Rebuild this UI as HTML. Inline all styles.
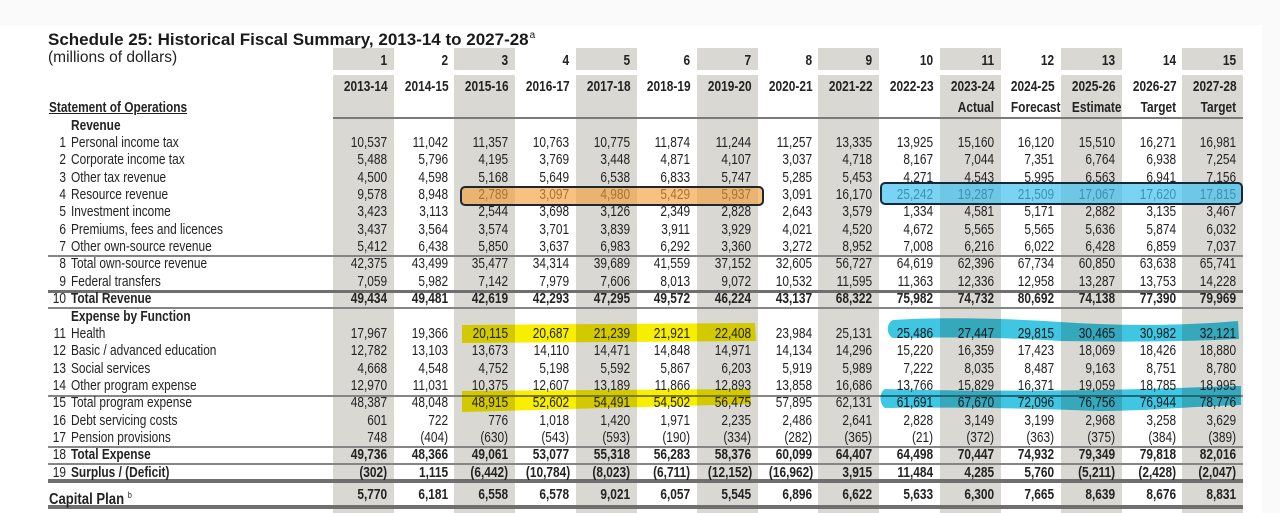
<!DOCTYPE html>
<html><head><meta charset="utf-8">
<style>
*{box-sizing:border-box}
body{margin:0;width:1280px;height:513px;overflow:hidden;background:#fff;position:relative;font-family:"Liberation Sans",Arial,sans-serif;color:#232323}
.band{position:absolute;background:#fafafa}
.sh{position:absolute;background:#d9d8d3;width:61px}
.hl{position:absolute;background:#858585}
.title{position:absolute;left:48px;top:26px;line-height:20px;font-size:17px;font-weight:bold;color:#1a1a1a;white-space:nowrap}
.title sup{font-size:10px;font-weight:normal;vertical-align:7px;margin-left:1px}
.sub{position:absolute;left:48px;top:49px;line-height:18px;font-size:15.5px;color:#222;white-space:nowrap}
.row{position:absolute;left:0;width:1280px;height:17px;line-height:17px;font-size:14.5px;white-space:nowrap}
.row .n{position:absolute;left:0;width:66px;text-align:right;transform:scaleX(.82);transform-origin:100% 50%}
.row .l{position:absolute;left:71px;transform:scaleX(.82);transform-origin:0 50%}
.row .L{position:absolute;left:49px;transform:scaleX(.82);transform-origin:0 50%}
.d{position:absolute;left:333px;top:0;display:flex}
.d i{font-style:normal;display:block;width:60.67px;text-align:right;padding-right:8px;transform:scaleX(.82);transform-origin:100% 50%}
.b{font-weight:bold}
.u{text-decoration:underline}
.box{position:absolute;border-radius:5px}
svg{position:absolute;left:0;top:0}
</style></head><body>
<div class="band" style="left:0;top:0;width:1280px;height:25px"></div>
<div class="band" style="left:1262px;top:0;width:18px;height:513px"></div>

<div class="sh" style="left:333px;top:48px;height:22px"></div>
<div class="sh" style="left:454.3px;top:48px;height:22px"></div>
<div class="sh" style="left:575.7px;top:48px;height:22px"></div>
<div class="sh" style="left:697px;top:48px;height:22px"></div>
<div class="sh" style="left:818.3px;top:48px;height:22px"></div>
<div class="sh" style="left:939.7px;top:48px;height:22px"></div>
<div class="sh" style="left:1061px;top:48px;height:22px"></div>
<div class="sh" style="left:1182.3px;top:48px;height:22px"></div>
<div class="sh" style="left:333px;top:75px;height:438px"></div>
<div class="sh" style="left:454.3px;top:75px;height:438px"></div>
<div class="sh" style="left:575.7px;top:75px;height:438px"></div>
<div class="sh" style="left:697px;top:75px;height:438px"></div>
<div class="sh" style="left:818.3px;top:75px;height:438px"></div>
<div class="sh" style="left:939.7px;top:75px;height:438px"></div>
<div class="sh" style="left:1061px;top:75px;height:438px"></div>
<div class="sh" style="left:1182.3px;top:75px;height:438px"></div>

<div class="hl" style="left:333px;top:117px;width:910px;height:2px;background:#7a7a7a"></div>
<div class="hl" style="left:48px;top:255px;width:1195px;height:2px"></div>
<div class="hl" style="left:48px;top:290px;width:1195px;height:3px;background:#6f6f6f"></div>
<div class="hl" style="left:48px;top:307px;width:1195px;height:2px"></div>
<div class="hl" style="left:48px;top:395px;width:1195px;height:2px"></div>
<div class="hl" style="left:48px;top:446px;width:1195px;height:2px"></div>
<div class="hl" style="left:48px;top:463px;width:1195px;height:2px"></div>
<div class="hl" style="left:48px;top:479px;width:1195px;height:4px;background:#6f6f6f"></div>
<div class="hl" style="left:48px;top:505px;width:1195px;height:4px;background:#6f6f6f"></div>

<div class="title">Schedule 25: Historical Fiscal Summary, 2013-14 to 2027-28<sup>a</sup></div>
<div class="sub">(millions of dollars)</div>

<div class="row b" style="top:52.5px"><div class="d"><i>1</i><i>2</i><i>3</i><i>4</i><i>5</i><i>6</i><i>7</i><i>8</i><i>9</i><i>10</i><i>11</i><i>12</i><i>13</i><i>14</i><i>15</i></div></div>
<div class="row b" style="top:78.5px"><div class="d"><i>2013-14</i><i>2014-15</i><i>2015-16</i><i>2016-17</i><i>2017-18</i><i>2018-19</i><i>2019-20</i><i>2020-21</i><i>2021-22</i><i>2022-23</i><i>2023-24</i><i>2024-25</i><i>2025-26</i><i>2026-27</i><i>2027-28</i></div></div>
<div class="row b" style="top:99.5px"><span class="L u">Statement of Operations</span><div class="d"><i></i><i></i><i></i><i></i><i></i><i></i><i></i><i></i><i></i><i></i><i>Actual</i><i>Forecast</i><i>Estimate</i><i>Target</i><i>Target</i></div></div>

<div class="row b" style="top:117.7px"><span class="l">Revenue</span></div>
<div class="row" style="top:135px"><span class="n">1</span><span class="l">Personal income tax</span><div class="d"><i>10,537</i><i>11,042</i><i>11,357</i><i>10,763</i><i>10,775</i><i>11,874</i><i>11,244</i><i>11,257</i><i>13,335</i><i>13,925</i><i>15,160</i><i>16,120</i><i>15,510</i><i>16,271</i><i>16,981</i></div></div>
<div class="row" style="top:152.4px"><span class="n">2</span><span class="l">Corporate income tax</span><div class="d"><i>5,488</i><i>5,796</i><i>4,195</i><i>3,769</i><i>3,448</i><i>4,871</i><i>4,107</i><i>3,037</i><i>4,718</i><i>8,167</i><i>7,044</i><i>7,351</i><i>6,764</i><i>6,938</i><i>7,254</i></div></div>
<div class="row" style="top:169.7px"><span class="n">3</span><span class="l">Other tax revenue</span><div class="d"><i>4,500</i><i>4,598</i><i>5,168</i><i>5,649</i><i>6,538</i><i>6,833</i><i>5,747</i><i>5,285</i><i>5,453</i><i>4,271</i><i>4,543</i><i>5,995</i><i>6,563</i><i>6,941</i><i>7,156</i></div></div>
<div class="row" style="top:187.1px"><span class="n">4</span><span class="l">Resource revenue</span><div class="d"><i>9,578</i><i>8,948</i><i>2,789</i><i>3,097</i><i>4,980</i><i>5,429</i><i>5,937</i><i>3,091</i><i>16,170</i><i>25,242</i><i>19,287</i><i>21,509</i><i>17,067</i><i>17,620</i><i>17,815</i></div></div>
<div class="row" style="top:204.4px"><span class="n">5</span><span class="l">Investment income</span><div class="d"><i>3,423</i><i>3,113</i><i>2,544</i><i>3,698</i><i>3,126</i><i>2,349</i><i>2,828</i><i>2,643</i><i>3,579</i><i>1,334</i><i>4,581</i><i>5,171</i><i>2,882</i><i>3,135</i><i>3,467</i></div></div>
<div class="row" style="top:221.8px"><span class="n">6</span><span class="l">Premiums, fees and licences</span><div class="d"><i>3,437</i><i>3,564</i><i>3,574</i><i>3,701</i><i>3,839</i><i>3,911</i><i>3,929</i><i>4,021</i><i>4,520</i><i>4,672</i><i>5,565</i><i>5,565</i><i>5,636</i><i>5,874</i><i>6,032</i></div></div>
<div class="row" style="top:239.1px"><span class="n">7</span><span class="l">Other own-source revenue</span><div class="d"><i>5,412</i><i>6,438</i><i>5,850</i><i>3,637</i><i>6,983</i><i>6,292</i><i>3,360</i><i>3,272</i><i>8,952</i><i>7,008</i><i>6,216</i><i>6,022</i><i>6,428</i><i>6,859</i><i>7,037</i></div></div>
<div class="row" style="top:256.4px"><span class="n">8</span><span class="l">Total own-source revenue</span><div class="d"><i>42,375</i><i>43,499</i><i>35,477</i><i>34,314</i><i>39,689</i><i>41,559</i><i>37,152</i><i>32,605</i><i>56,727</i><i>64,619</i><i>62,396</i><i>67,734</i><i>60,850</i><i>63,638</i><i>65,741</i></div></div>
<div class="row" style="top:273.8px"><span class="n">9</span><span class="l">Federal transfers</span><div class="d"><i>7,059</i><i>5,982</i><i>7,142</i><i>7,979</i><i>7,606</i><i>8,013</i><i>9,072</i><i>10,532</i><i>11,595</i><i>11,363</i><i>12,336</i><i>12,958</i><i>13,287</i><i>13,753</i><i>14,228</i></div></div>
<div class="row b" style="top:291.3px"><span class="n" style="font-weight:normal">10</span><span class="l">Total Revenue</span><div class="d"><i>49,434</i><i>49,481</i><i>42,619</i><i>42,293</i><i>47,295</i><i>49,572</i><i>46,224</i><i>43,137</i><i>68,322</i><i>75,982</i><i>74,732</i><i>80,692</i><i>74,138</i><i>77,390</i><i>79,969</i></div></div>
<div class="row b" style="top:308.5px"><span class="l">Expense by Function</span></div>
<div class="row" style="top:325.9px"><span class="n">11</span><span class="l">Health</span><div class="d"><i>17,967</i><i>19,366</i><i>20,115</i><i>20,687</i><i>21,239</i><i>21,921</i><i>22,408</i><i>23,984</i><i>25,131</i><i>25,486</i><i>27,447</i><i>29,815</i><i>30,465</i><i>30,982</i><i>32,121</i></div></div>
<div class="row" style="top:343.2px"><span class="n">12</span><span class="l">Basic / advanced education</span><div class="d"><i>12,782</i><i>13,103</i><i>13,673</i><i>14,110</i><i>14,471</i><i>14,848</i><i>14,971</i><i>14,134</i><i>14,296</i><i>15,220</i><i>16,359</i><i>17,423</i><i>18,069</i><i>18,426</i><i>18,880</i></div></div>
<div class="row" style="top:360.6px"><span class="n">13</span><span class="l">Social services</span><div class="d"><i>4,668</i><i>4,548</i><i>4,752</i><i>5,198</i><i>5,592</i><i>5,867</i><i>6,203</i><i>5,919</i><i>5,989</i><i>7,222</i><i>8,035</i><i>8,487</i><i>9,163</i><i>8,751</i><i>8,780</i></div></div>
<div class="row" style="top:377.9px"><span class="n">14</span><span class="l">Other program expense</span><div class="d"><i>12,970</i><i>11,031</i><i>10,375</i><i>12,607</i><i>13,189</i><i>11,866</i><i>12,893</i><i>13,858</i><i>16,686</i><i>13,766</i><i>15,829</i><i>16,371</i><i>19,059</i><i>18,785</i><i>18,995</i></div></div>
<div class="row" style="top:395.3px"><span class="n">15</span><span class="l">Total program expense</span><div class="d"><i>48,387</i><i>48,048</i><i>48,915</i><i>52,602</i><i>54,491</i><i>54,502</i><i>56,475</i><i>57,895</i><i>62,131</i><i>61,691</i><i>67,670</i><i>72,096</i><i>76,756</i><i>76,944</i><i>78,776</i></div></div>
<div class="row" style="top:412.6px"><span class="n">16</span><span class="l">Debt servicing costs</span><div class="d"><i>601</i><i>722</i><i>776</i><i>1,018</i><i>1,420</i><i>1,971</i><i>2,235</i><i>2,486</i><i>2,641</i><i>2,828</i><i>3,149</i><i>3,199</i><i>2,968</i><i>3,258</i><i>3,629</i></div></div>
<div class="row" style="top:430px"><span class="n">17</span><span class="l">Pension provisions</span><div class="d"><i>748</i><i>(404)</i><i>(630)</i><i>(543)</i><i>(593)</i><i>(190)</i><i>(334)</i><i>(282)</i><i>(365)</i><i>(21)</i><i>(372)</i><i>(363)</i><i>(375)</i><i>(384)</i><i>(389)</i></div></div>
<div class="row b" style="top:447.3px"><span class="n" style="font-weight:normal">18</span><span class="l">Total Expense</span><div class="d"><i>49,736</i><i>48,366</i><i>49,061</i><i>53,077</i><i>55,318</i><i>56,283</i><i>58,376</i><i>60,099</i><i>64,407</i><i>64,498</i><i>70,447</i><i>74,932</i><i>79,349</i><i>79,818</i><i>82,016</i></div></div>
<div class="row b" style="top:464.7px"><span class="n" style="font-weight:normal">19</span><span class="l">Surplus / (Deficit)</span><div class="d"><i>(302)</i><i>1,115</i><i>(6,442)</i><i>(10,784)</i><i>(8,023)</i><i>(6,711)</i><i>(12,152)</i><i>(16,962)</i><i>3,915</i><i>11,484</i><i>4,285</i><i>5,760</i><i>(5,211)</i><i>(2,428)</i><i>(2,047)</i></div></div>
<div class="row b" style="top:486.5px"><span class="L" style="font-size:16px">Capital Plan <sup style="font-size:9px;font-weight:normal;vertical-align:6px">b</sup></span><div class="d"><i>5,770</i><i>6,181</i><i>6,558</i><i>6,578</i><i>9,021</i><i>6,057</i><i>5,545</i><i>6,896</i><i>6,622</i><i>5,633</i><i>6,300</i><i>7,665</i><i>8,639</i><i>8,676</i><i>8,831</i></div></div>

<svg width="1280" height="513" style="mix-blend-mode:multiply">
  <polygon points="462,325 755,323 756,341 462,343" fill="#f7ee00"/>
  <polygon points="462,391 750,389 751,404 462,412" fill="#f7ee00"/>
  <path d="M893,320 C940,317 1000,318 1060,322 C1120,326 1180,326 1238,321 L1239,339 C1180,342 1120,342 1060,341 C1000,337 950,337 893,338 C886,335 886,323 893,320 Z" fill="#3fc6e2"/>
  <path d="M885,389 C950,391 1020,391 1100,390 C1160,389 1200,387 1241,386 L1241,405 C1200,406 1150,411 1100,411 C1020,408 950,407 885,408 C879,404 879,392 885,389 Z" fill="#3fc6e2"/>
</svg>

<div class="box" style="left:460px;top:186px;width:304px;height:20px;background:rgba(243,160,58,0.64);border:2px solid #1d2733"></div>
<div class="box" style="left:880px;top:182px;width:363px;height:23px;background:rgba(66,192,238,0.7);border:2px solid #17283a"></div>
</body></html>
